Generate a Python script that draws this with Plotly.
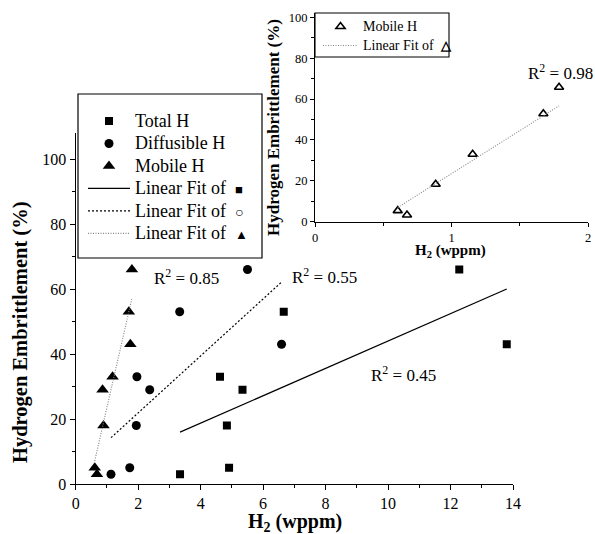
import numpy as np
import plotly.graph_objects as go

# ---- data ----
total_x = [3.34, 4.91, 4.84, 5.34, 4.62, 6.66, 13.80, 12.28]
total_y = [3, 5, 18, 29, 33, 53, 43, 66]
diff_x = [1.13, 1.73, 1.94, 2.37, 1.96, 6.59, 3.33, 5.50]
diff_y = [3, 5, 18, 29, 33, 43, 53, 66]
mob_x = [0.61, 0.68, 0.89, 0.86, 1.18, 1.75, 1.70, 1.80]
mob_y = [5, 3, 18, 29, 33, 43, 53, 66]
inset_x = [0.606, 0.674, 0.884, 1.155, 1.673, 1.788]
inset_y = [5.4, 3.3, 18.3, 33, 52.8, 65.8]
r2_labels = ["R<sup>2</sup> = 0.45", "R<sup>2</sup> = 0.55", "R<sup>2</sup> = 0.85", "R<sup>2</sup> = 0.98"]
main_xticks = [0, 2, 4, 6, 8, 10, 12, 14]
main_yticks = [0, 20, 40, 60, 80, 100]
inset_xticks = [0, 1, 2]
inset_yticks = [0, 20, 40, 60, 80, 100]

FONT = "Liberation Serif, Times New Roman, serif"
W, H = 595, 534
NB = "\u00a0"


def px(x):
    return x / W


def py(y):
    return 1 - y / H


def fit_line(xs, ys, x_span):
    k, b = np.polyfit(xs, ys, 1)
    xe = np.array([min(x_span), max(x_span)])
    return xe, k * xe + b


def sym(ch, size):
    return f"{NB}{NB}<b><span style='font-size:{size}px'>{ch}</span></b>"


fig = go.Figure()

# main scatter
fig.add_trace(go.Scatter(x=total_x, y=total_y, mode="markers", name="Total H",
                         marker=dict(symbol="square", size=8, color="black"), legend="legend"))
fig.add_trace(go.Scatter(x=diff_x, y=diff_y, mode="markers", name="Diffusible H",
                         marker=dict(symbol="circle", size=9, color="black"), legend="legend"))
fig.add_trace(go.Scatter(x=mob_x, y=mob_y, mode="markers", name="Mobile H",
                         marker=dict(symbol="triangle-up", size=11, color="black"), legend="legend"))

fx, fy = fit_line(total_x, total_y, total_x)
fig.add_trace(go.Scatter(x=fx, y=fy, mode="lines",
                         name="Linear Fit of" + sym("■", 13),
                         line=dict(color="black", width=1.2), legend="legend"))
fx, fy = fit_line(diff_x, diff_y, diff_x)
fig.add_trace(go.Scatter(x=fx, y=fy, mode="lines",
                         name="Linear Fit of" + sym("○", 14),
                         line=dict(color="black", width=1.2, dash="2px,2px"), legend="legend"))
fx, fy = fit_line(mob_x, mob_y, mob_x)
fig.add_trace(go.Scatter(x=fx, y=fy, mode="lines",
                         name="Linear Fit of" + sym("▲", 13),
                         line=dict(color="#888888", width=1.2, dash="1px,1.5px"), legend="legend"))

# inset
fig.add_trace(go.Scatter(x=inset_x, y=inset_y, mode="markers", name="Mobile H",
                         marker=dict(symbol="triangle-up-open", size=8, color="black",
                                     line=dict(width=1.6, color="black")),
                         xaxis="x2", yaxis="y2", legend="legend2"))
fx, fy = fit_line(mob_x, mob_y, inset_x)
fig.add_trace(go.Scatter(x=fx, y=fy, mode="lines",
                         name="Linear Fit of" + sym("△", 13),
                         line=dict(color="#888888", width=1.1, dash="1px,1.5px"),
                         xaxis="x2", yaxis="y2", legend="legend2"))

# legend text sizes
for tr in fig.data:
    size = 18 if tr.legend == "legend" else 14
    tr.name = f"<span style='font-size:{size}px'>" + tr.name + "</span>"

axis_common = dict(showgrid=False, zeroline=False, showline=True, linecolor="black",
                   ticks="outside", tickcolor="black", automargin=False)

fig.update_layout(
    width=W, height=H,
    margin=dict(l=0, r=0, t=0, b=0),
    paper_bgcolor="white", plot_bgcolor="rgba(0,0,0,0)",
    font=dict(family=FONT, color="black"),
    xaxis=dict(domain=[px(75.7), px(513)], range=[0, 14], tickvals=main_xticks,
               ticklen=5, linewidth=1.3, tickwidth=1.2,
               minor=dict(ticks="outside", dtick=1, ticklen=3, tickcolor="black"),
               tickfont=dict(family=FONT, size=16, color="black"), **axis_common),
    yaxis=dict(domain=[py(484), py(133)], range=[0, 108], tickvals=main_yticks,
               ticklen=5, linewidth=1.3, tickwidth=1.2,
               minor=dict(ticks="outside", dtick=10, ticklen=3, tickcolor="black"),
               tickfont=dict(family=FONT, size=16, color="black"), **axis_common),
    xaxis2=dict(domain=[px(315), px(588)], range=[0, 2], tickvals=inset_xticks, anchor="y2",
                ticklen=4, linewidth=1.1, tickwidth=1,
                minor=dict(ticks="outside", dtick=0.5, ticklen=3, tickcolor="black"),
                tickfont=dict(family=FONT, size=12.5, color="black"), **axis_common),
    yaxis2=dict(domain=[py(221.7), py(13.2)], range=[0, 102], tickvals=inset_yticks, anchor="x2",
                ticklen=4, linewidth=1.1, tickwidth=1,
                minor=dict(ticks="outside", dtick=10, ticklen=3, tickcolor="black"),
                tickfont=dict(family=FONT, size=12.5, color="black"), **axis_common),
    legend=dict(x=px(83), y=py(104.7), xanchor="left", yanchor="top",
                bgcolor="rgba(0,0,0,0)", borderwidth=0,
                font=dict(family=FONT, size=15, color="black"), itemwidth=42,
                tracegroupgap=0),
    legend2=dict(x=px(318), y=py(12), xanchor="left", yanchor="top",
                 bgcolor="rgba(0,0,0,0)", borderwidth=0,
                 font=dict(family=FONT, size=11.5, color="black"), itemwidth=35),
    showlegend=True,
)

# legend frames
fig.add_shape(type="rect", xref="paper", yref="paper", layer="above",
              x0=px(78), x1=px(262), y0=py(258), y1=py(94),
              line=dict(color="black", width=1.2), fillcolor="white")
fig.add_shape(type="rect", xref="paper", yref="paper", layer="above",
              x0=px(315), x1=px(449), y0=py(57), y1=py(13),
              line=dict(color="black", width=1.1), fillcolor="white")

annos = [
    dict(x=10.51, y=33.8, xref="x", yref="y", text=r2_labels[0]),
    dict(x=7.95, y=64.1, xref="x", yref="y", text=r2_labels[1]),
    dict(x=3.56, y=63.7, xref="x", yref="y", text=r2_labels[2]),
    dict(x=1.795, y=73.3, xref="x2", yref="y2", text=r2_labels[3]),
]
for a in annos:
    fig.add_annotation(showarrow=False, xanchor="center", yanchor="middle",
                       font=dict(family=FONT, size=17, color="black"), **a)

# axis titles
title_common = dict(xref="paper", yref="paper", showarrow=False, xanchor="center", yanchor="middle")
fig.add_annotation(x=px(295), y=py(522), text="<b>H<sub>2</sub> (wppm)</b>",
                   font=dict(family=FONT, size=20, color="black"), **title_common)
fig.add_annotation(x=px(20), y=py(332), textangle=-90, text="<b>Hydrogen Embrittlement (%)</b>",
                   font=dict(family=FONT, size=20.5, color="black"), **title_common)
fig.add_annotation(x=px(450), y=py(251), text="<b>H<sub>2</sub> (wppm)</b>",
                   font=dict(family=FONT, size=15, color="black"), **title_common)
fig.add_annotation(x=px(273), y=py(128), textangle=-90, text="<b>Hydrogen Embrittlement (%)</b>",
                   font=dict(family=FONT, size=17, color="black"), **title_common)

fig.write_html("out.html", config={"displayModeBar": False},
               post_script="document.body.style.margin='0';")
